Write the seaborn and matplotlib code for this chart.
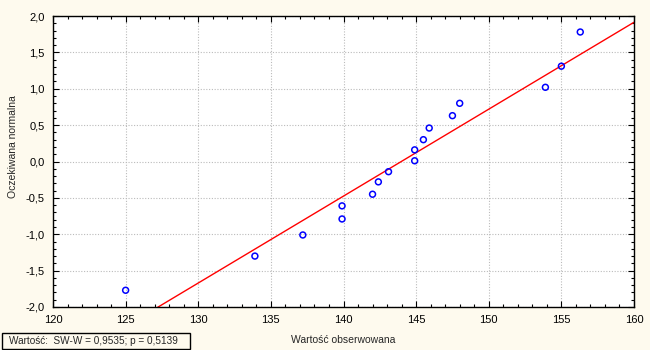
import numpy as np
import pandas as pd
import matplotlib
matplotlib.use("Agg")
import matplotlib.pyplot as plt
from matplotlib.ticker import MultipleLocator, FuncFormatter
from matplotlib.patches import Rectangle
import seaborn as sns

# Data
observed = [125.0, 133.9, 137.2, 139.9, 139.9, 142.0, 142.4, 143.1, 144.9,
            144.9, 145.5, 145.9, 147.5, 148.0, 153.9, 155.0, 156.3]
expected = [-1.77, -1.30, -1.01, -0.79, -0.61, -0.45, -0.28, -0.14, 0.01,
            0.16, 0.30, 0.46, 0.63, 0.80, 1.02, 1.31, 1.78]
fit_mean = 143.98
fit_sd = 8.37
x_ticks = [120, 125, 130, 135, 140, 145, 150, 155, 160]
y_ticks = [-2.0, -1.5, -1.0, -0.5, 0.0, 0.5, 1.0, 1.5, 2.0]
x_label = "Wartość obserwowana"
y_label = "Oczekiwana normalna"
stat_text = "Wartość:  SW-W = 0,9535; p = 0,5139"

sns.set_theme(style="white")
plt.rcParams['font.family'] = ['Liberation Sans', 'DejaVu Sans']

bg = "#FEFAEE"
fig = plt.figure(figsize=(6.5, 3.5), dpi=100, facecolor=bg)
ax = fig.add_axes([53/650, 1-307/350, (634-53)/650, (307-16)/350])
ax.set_facecolor("white")

df = pd.DataFrame({"obs": observed, "exp": expected})
line_x = np.linspace(x_ticks[0], x_ticks[-1], 200)
line_df = pd.DataFrame({"x": line_x, "y": (line_x - fit_mean) / fit_sd})

sns.lineplot(data=line_df, x="x", y="y", ax=ax, color="red", linewidth=1.0, zorder=2)
sns.scatterplot(data=df, x="obs", y="exp", ax=ax, marker="o", s=18,
                facecolors="none", edgecolor="blue", linewidth=1.1, zorder=3)

ax.set_xlim(x_ticks[0], x_ticks[-1])
ax.set_ylim(y_ticks[0], y_ticks[-1])
ax.set_xticks(x_ticks)
ax.set_yticks(y_ticks)
ax.xaxis.set_minor_locator(MultipleLocator(1))
ax.yaxis.set_minor_locator(MultipleLocator(0.1))
ax.xaxis.set_major_formatter(FuncFormatter(lambda v, p: f"{v:.0f}"))
ax.yaxis.set_major_formatter(FuncFormatter(lambda v, p: f"{v:.1f}".replace(".", ",")))

ax.tick_params(which="both", direction="in", top=True, right=True,
               bottom=True, left=True, colors="black", labelsize=8)
ax.tick_params(which="major", length=4, width=0.8, pad=6)
ax.tick_params(which="minor", length=2.5, width=0.8)

for s in ax.spines.values():
    s.set_visible(True)
    s.set_color("black")
    s.set_linewidth(1.0)

ax.grid(True, which="major", color="#BBBBBB", linestyle=(0, (1, 1.5)), linewidth=0.8)
ax.set_axisbelow(True)

ax.set_xlabel(x_label, fontsize=7.5, labelpad=7)
ax.set_ylabel(y_label, fontsize=7.5)
ax.yaxis.set_label_coords(-0.06, 0.55)

fig.patches.append(Rectangle((2/650, 1-349/350), 188/650, 16/350,
                             transform=fig.transFigure, facecolor=bg,
                             edgecolor="black", linewidth=1.0))
fig.text(9/650, 1-341/350, stat_text, fontsize=7.2, va="center", ha="left")

fig.savefig("out.png", dpi=100, facecolor=bg)
